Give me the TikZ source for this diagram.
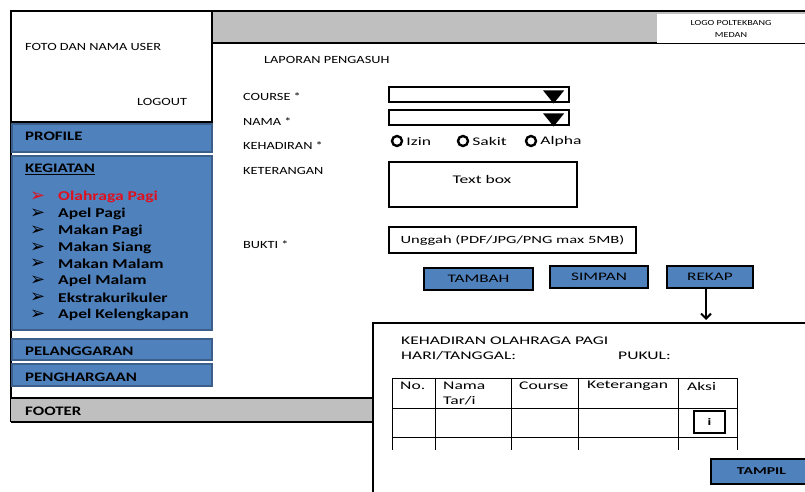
\documentclass[tikz,border=0pt]{standalone}
\usepackage{fontspec}
\usepackage{tikz}
\usetikzlibrary{arrows.meta,positioning}

\newfontfamily\uifont[FakeStretch=1.3]{Carlito}
\newfontfamily\uiwide[FakeStretch=1.5]{Carlito}
\newfontfamily\symfont{DejaVu Sans}

\definecolor{uiblue}{HTML}{4F81BD}
\definecolor{uiblueline}{HTML}{3B5F8A}
\definecolor{uigray}{HTML}{BFBFBF}
\definecolor{uired}{HTML}{E0101E}

\tikzset{
	frame/.style={draw=black, line width=2.2pt},
	menubox/.style={fill=uiblue, draw=uiblueline, line width=1.6pt},
	btn/.style={fill=uiblue, draw=black, line width=2pt, inner sep=0pt, font=\uiwide\fontsize{11.5}{13}\selectfont},
	inbox/.style={draw=black, line width=2.2pt, fill=white, inner sep=0pt},
	lbl/.style={anchor=west, inner sep=0pt, font=\uifont\fontsize{11}{13}\selectfont},
	side/.style={anchor=west, inner sep=0pt, font=\uifont\bfseries\fontsize{13}{15}\selectfont},
	item/.style={anchor=west, inner sep=0pt, font=\uifont\bfseries\fontsize{13.5}{15}\selectfont},
	bullet/.style={anchor=west, inner sep=0pt, font=\symfont\fontsize{18}{20}\selectfont},
	wide/.style={anchor=west, inner sep=0pt, font=\uiwide\fontsize{11.7}{13}\selectfont},
	cell/.style={draw=black, line width=0.8pt},
	radio/.style={circle, draw=black, line width=2.4pt, minimum size=10pt, inner sep=0pt},
}

\begin{document}
\begin{tikzpicture}[x=1pt,y=-1pt]

	\useasboundingbox (0,0) rectangle (805,492);

	\coordinate (tl) at (11,11);
	\coordinate (tr) at (805,11);
	\coordinate (hb) at (212,43);

	% header and user box
	\fill[uigray] (212,11) rectangle (805,43);
	\draw[frame] (tl) -- (tr);
	\draw[frame] (hb) -- (805,43);
	\node[inbox, line width=0pt, draw=none, minimum width=148, minimum height=29, font=\uifont\fontsize{7.8}{12}\selectfont, align=center] (logo) at (731,29) {LOGO POLTEKBANG\\MEDAN};
	\draw[frame] (tl) rectangle (212,122);
	\draw[frame] (11,11) -- (11,422);
	\node[lbl] (user) at (25,47) {FOTO DAN NAMA USER};
	\node[lbl] (logout) at (137,102) {LOGOUT};

	% side menu
	\draw[menubox] (12,124) rectangle (212,152);
	\node[side] (profile) at (25,136) {PROFILE};
	\draw[menubox] (12,156) rectangle (212,330);
	\node[side] (kegiatan) at (25,169) {\underline{KEGIATAN}};

	\node[bullet, text=uired] (b1) at (30,197) {➢};
	\node[item, text=uired] (m1) at (58,197) {Olahraga Pagi};
	\node[bullet] (b2) at (30,213.5) {➢};
	\node[item] (m2) at (58,213.5) {Apel Pagi};
	\node[bullet] (b3) at (30,230.5) {➢};
	\node[item] (m3) at (58,230.5) {Makan Pagi};
	\node[bullet] (b4) at (30,247.5) {➢};
	\node[item] (m4) at (58,247.5) {Makan Siang};
	\node[bullet] (b5) at (30,264) {➢};
	\node[item] (m5) at (58,264) {Makan Malam};
	\node[bullet] (b6) at (30,281) {➢};
	\node[item] (m6) at (58,281) {Apel Malam};
	\node[bullet] (b7) at (30,298) {➢};
	\node[item] (m7) at (58,298) {Ekstrakurikuler};
	\node[bullet] (b8) at (30,315) {➢};
	\node[item] (m8) at (58,315) {Apel Kelengkapan};

	\draw[menubox] (12,339) rectangle (212,360);
	\node[side] (pelanggaran) at (25,351) {PELANGGARAN};
	\draw[menubox] (12,364) rectangle (212,386);
	\node[side] (penghargaan) at (25,377) {PENGHARGAAN};

	% footer
	\fill[uigray] (11,398) rectangle (372,422);
	\draw[frame] (11,398) -- (372,398);
	\draw[frame] (11,422) -- (372,422);
	\node[side] (footer) at (25,411) {FOOTER};

	% form
	\node[lbl] (judul) at (264,60) {LAPORAN PENGASUH};
	\node[lbl] (course) at (243,97) {COURSE *};
	\node[lbl] (nama) at (243,122) {NAMA *};
	\node[lbl] (hadir) at (243,146) {KEHADIRAN *};
	\node[lbl] (ket) at (243,171) {KETERANGAN};
	\node[lbl] (bukti) at (243,245) {BUKTI *};

	\node[inbox, minimum width=180, minimum height=15] (pilihcourse) at (479,94.5) {};
	\fill (pilihcourse.east) ++(-27,-4) -- ++(21,0) -- ++(-10.5,13) -- cycle;
	\node[inbox, minimum width=180, minimum height=15] (pilihnama) at (479,117.5) {};
	\fill (pilihnama.east) ++(-27,-4) -- ++(21,0) -- ++(-10.5,13) -- cycle;

	\node[radio] (r1) at (397,141) {};
	\node[wide, right=3pt of r1] (izin) {Izin};
	\node[radio] (r2) at (463,141) {};
	\node[wide, right=3pt of r2] (sakit) {Sakit};
	\node[radio] (r3) at (531,141) {};
	\node[wide, right=3pt of r3] (alpha) {Alpha};

	\node[inbox, minimum width=188, minimum height=45] (textbox) at (483,184.5) {};
	\node[wide, anchor=center] (tbtext) at (482,179) {Text box};
	\node[inbox, minimum width=247, minimum height=26, font=\uiwide\fontsize{11}{13}\selectfont] (unggah) at (512.5,240) {Unggah (PDF/JPG/PNG max 5MB)};

	\node[btn, minimum width=109, minimum height=22] (tambah) at (478.5,279) {TAMBAH};
	\node[btn, minimum width=98, minimum height=22] (simpan) at (599,277) {SIMPAN};
	\node[btn, minimum width=86, minimum height=22] (rekap) at (710,277) {REKAP};

	% rekap popup
	\node[draw=black, line width=2.2pt, fill=white, minimum width=450, minimum height=180, anchor=north west] (popup) at (372,322) {};
	\draw[line width=2pt, -{Straight Barb[length=5pt,width=10pt]}] (rekap.south -| 706,0) -- (706,320);

	\node[wide] (rektitle) at (401,341) {KEHADIRAN OLAHRAGA PAGI};
	\node[wide] (tanggal) at (401,356) {HARI/TANGGAL:};
	\node[wide] (pukul) at (618,356) {PUKUL:};

	\draw[cell] (392,378) -- (737,378);
	\draw[cell] (392,408) -- (737,408);
	\draw[cell] (392,437) -- (737,437);
	\draw[cell] (392,378) -- (392,450);
	\draw[cell] (435,378) -- (435,450);
	\draw[cell] (511,378) -- (511,450);
	\draw[cell] (578,378) -- (578,450);
	\draw[cell] (678,378) -- (678,450);
	\draw[cell] (737,378) -- (737,450);

	\node[wide] (hno) at (400,386) {No.};
	\node[wide] (hnama) at (443,386) {Nama};
	\node[wide] (htar) at (443,401) {Tar/i};
	\node[wide] (hcourse) at (519,386) {Course};
	\node[wide] (hket) at (587,386) {Keterangan};
	\node[wide] (haksi) at (687,386) {Aksi};

	\node[inbox, line width=2.5pt, minimum width=31, minimum height=22, font=\uiwide\bfseries\fontsize{10}{12}\selectfont] (info) at (709.5,422) {i};
	\node[btn, minimum width=101, minimum height=25, font=\uiwide\bfseries\fontsize{10.5}{12}\selectfont] (tampil) at (761.5,471.5) {TAMPIL};

\end{tikzpicture}
\end{document}
